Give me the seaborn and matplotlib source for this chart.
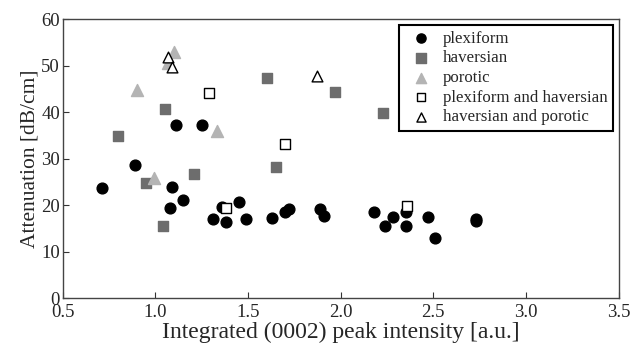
import pandas as pd
import numpy as np
import matplotlib
matplotlib.use('Agg')
import matplotlib.pyplot as plt
import seaborn as sns

# Data
plex_x = [0.71, 0.89, 1.09, 1.08, 1.15, 1.11, 1.25, 1.31, 1.36, 1.38, 1.45, 1.49,
          1.63, 1.70, 1.72, 1.89, 1.91, 2.18, 2.24, 2.28, 2.35, 2.35, 2.47, 2.51,
          2.73, 2.73]
plex_y = [23.8, 28.6, 23.9, 19.4, 21.2, 37.3, 37.3, 17.1, 19.7, 16.5, 20.6, 17.1,
          17.2, 18.6, 19.2, 19.2, 17.8, 18.6, 15.6, 17.5, 18.6, 15.5, 17.4, 13.0,
          17.1, 16.6]

hav_x = [0.80, 0.95, 1.04, 1.05, 1.21, 1.60, 1.65, 1.97, 2.23]
hav_y = [35.0, 24.9, 15.5, 40.7, 26.7, 47.3, 28.2, 44.3, 39.8]

por_x = [0.90, 0.99, 1.07, 1.10, 1.33]
por_y = [44.9, 25.8, 50.5, 53.0, 36.0]

plexhav_x = [1.29, 1.38, 1.70, 2.36]
plexhav_y = [44.2, 19.5, 33.2, 19.9]

havpor_x = [1.07, 1.09, 1.87]
havpor_y = [51.8, 49.8, 47.8]

groups = ['plexiform', 'haversian', 'porotic', 'plexiform and haversian', 'haversian and porotic']
xs = [plex_x, hav_x, por_x, plexhav_x, havpor_x]
ys = [plex_y, hav_y, por_y, plexhav_y, havpor_y]

df = pd.concat([pd.DataFrame({'x': x, 'y': y, 'group': g}) for g, x, y in zip(groups, xs, ys)],
               ignore_index=True)

sns.set_style('ticks')
plt.rcParams['font.family'] = ['Liberation Serif', 'DejaVu Serif']

fig = plt.figure(figsize=(6.44, 3.52), dpi=100)
ax = fig.add_axes([0.0974, 0.1526, 0.8633, 0.7926])

styles = {
    'plexiform': dict(marker='o', color='black', edgecolor='black', s=60),
    'haversian': dict(marker='s', color='#6d6d6d', edgecolor='#6d6d6d', s=60),
    'porotic': dict(marker='^', color='#b4b4b4', edgecolor='#b4b4b4', s=75),
    'plexiform and haversian': dict(marker='s', color='white', edgecolor='black', s=55),
    'haversian and porotic': dict(marker='^', color='white', edgecolor='black', s=60),
}

for g in groups:
    st = styles[g]
    sns.scatterplot(data=df[df['group'] == g], x='x', y='y', ax=ax, label=g,
                    marker=st['marker'], color=st['color'], edgecolor=st['edgecolor'],
                    s=st['s'], linewidth=1.0)

ax.set_xlim(0.5, 3.5)
ax.set_ylim(0, 60)
ax.set_xticks(np.arange(0.5, 3.51, 0.5))
ax.set_yticks(np.arange(0, 61, 10))
ax.set_xticklabels([f'{v:.1f}' for v in np.arange(0.5, 3.51, 0.5)])
ax.tick_params(direction='in', length=4, labelsize=13.5, color='#333333')
ax.tick_params(axis='x', pad=4)
ax.tick_params(axis='y', pad=2)
for sp in ax.spines.values():
    sp.set_color('#444444')
    sp.set_linewidth(1.0)

ax.set_xlabel('Integrated (0002) peak intensity [a.u.]', fontsize=17, labelpad=1)
ax.set_ylabel('Attenuation [dB/cm]', fontsize=15.5, labelpad=1)

leg = ax.legend(loc='upper right', bbox_to_anchor=(0.995, 0.99), fontsize=12.2,
                frameon=True, fancybox=False, edgecolor='black', framealpha=1,
                borderpad=0.3, labelspacing=0.22, handletextpad=0.3, markerscale=0.85,
                borderaxespad=0.2)
leg.get_frame().set_linewidth(1.5)

fig.savefig('out.png', dpi=100)
